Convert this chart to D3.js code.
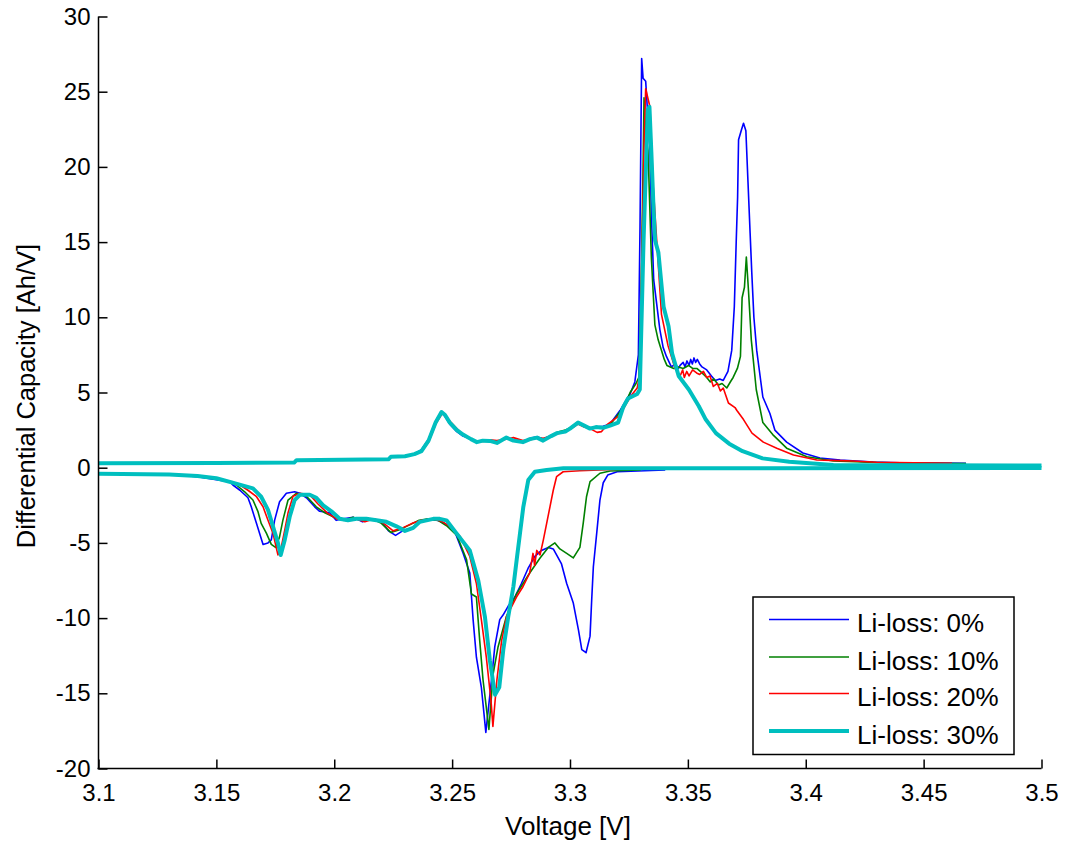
<!DOCTYPE html>
<html>
<head>
<meta charset="utf-8">
<script src="https://cdn.jsdelivr.net/npm/d3@7"></script>
<style>
  html, body { margin: 0; padding: 0; background: #fff; }
  svg { display: block; font-family: "Liberation Sans", Arial, sans-serif; }
</style>
</head>
<body>
<svg id="chart" width="1065" height="841"></svg>
<script>
// ---------- data ----------
const seriesNames = ["Li-loss: 0%", "Li-loss: 10%", "Li-loss: 20%", "Li-loss: 30%"];
const seriesColors = ["#0000ff", "#008000", "#ff0000", "#00bfbf"];
const seriesWidths = [1.6, 1.6, 1.6, 4];

const xTicks = [3.1, 3.15, 3.2, 3.25, 3.3, 3.35, 3.4, 3.45, 3.5];
const xTickLabels = ["3.1", "3.15", "3.2", "3.25", "3.3", "3.35", "3.4", "3.45", "3.5"];
const yTicks = [-20, -15, -10, -5, 0, 5, 10, 15, 20, 25, 30];
const yTickLabels = ["-20", "-15", "-10", "-5", "0", "5", "10", "15", "20", "25", "30"];

// charge branches [voltage, dQ/dV]
const charge0 = [[3.100,0.30],[3.150,0.32],[3.183,0.35],[3.184,0.50],[3.223,0.56],[3.224,0.70],[3.230,0.76],[3.234,0.92],[3.237,1.2],[3.240,1.9],[3.243,3.1],[3.2453,3.7],[3.247,3.4],[3.249,2.9],[3.252,2.4],[3.2546,2.1],[3.258,1.9],[3.2605,1.75],[3.263,1.8],[3.266,1.75],[3.269,1.7],[3.273,1.95],[3.276,1.85],[3.280,1.75],[3.283,1.95],[3.286,2.05],[3.2886,1.9],[3.292,2.15],[3.2945,2.3],[3.298,2.45],[3.300,2.6],[3.3034,2.95],[3.306,2.8],[3.3085,2.65],[3.311,2.7],[3.314,2.75],[3.317,2.9],[3.3212,3.8],[3.3235,4.4],[3.3255,4.9],[3.3275,5.7],[3.3290,7.5],[3.3297,16],[3.3304,27.2],[3.3310,25.9],[3.3321,25.7],[3.3339,21.1],[3.3346,16.5],[3.3355,12.5],[3.3381,9.2],[3.3395,8.0],[3.3409,7.4],[3.3430,6.7],[3.3447,6.9],[3.3460,6.6],[3.3467,6.8],[3.3480,7.0],[3.3488,6.7],[3.3496,7.1],[3.3505,6.8],[3.3512,7.2],[3.3519,6.9],[3.3526,7.3],[3.3533,7.0],[3.3540,7.2],[3.3550,6.9],[3.3560,6.7],[3.3580,6.5],[3.3600,6.1],[3.3616,5.8],[3.3635,5.9],[3.3650,5.8],[3.3670,6.4],[3.3686,7.8],[3.3697,10.7],[3.3705,15],[3.3711,18],[3.3715,21.8],[3.3728,22.5],[3.3736,22.9],[3.3746,22.4],[3.3755,19],[3.3764,15.6],[3.3771,13],[3.3780,10],[3.3792,7.8],[3.3818,4.7],[3.3848,3.6],[3.3869,2.5],[3.3919,1.7],[3.3988,0.98],[3.4060,0.64],[3.4146,0.51],[3.4287,0.37],[3.4400,0.32],[3.4680,0.30]];
const charge10 = [[3.100,0.30],[3.150,0.32],[3.183,0.34],[3.184,0.50],[3.223,0.55],[3.224,0.70],[3.230,0.75],[3.234,0.90],[3.237,1.15],[3.240,1.85],[3.243,3.0],[3.2455,3.65],[3.247,3.5],[3.249,3.0],[3.252,2.5],[3.2546,2.2],[3.258,1.9],[3.2605,1.7],[3.263,1.8],[3.266,1.8],[3.269,1.7],[3.273,1.95],[3.276,1.8],[3.280,1.75],[3.283,1.9],[3.286,2.0],[3.2886,1.85],[3.292,2.1],[3.2945,2.35],[3.298,2.5],[3.300,2.65],[3.3034,3.05],[3.306,2.8],[3.3085,2.6],[3.311,2.7],[3.314,2.7],[3.317,2.85],[3.3212,3.7],[3.3235,4.3],[3.3255,5.0],[3.3280,5.6],[3.3292,6.0],[3.3302,12],[3.3310,20],[3.3314,24.6],[3.3322,22],[3.3331,21.1],[3.3345,14],[3.3360,9.5],[3.3374,8.5],[3.3400,7.2],[3.3411,6.8],[3.3440,6.6],[3.3460,6.7],[3.3480,6.6],[3.3503,6.8],[3.3520,6.6],[3.3538,6.6],[3.3560,6.3],[3.3580,6.0],[3.3595,5.7],[3.3610,5.9],[3.3630,5.5],[3.3645,5.6],[3.3665,5.3],[3.3680,5.7],[3.3692,6.0],[3.3710,6.6],[3.3723,7.4],[3.3730,11.3],[3.3740,12.0],[3.3748,14.0],[3.3757,11.8],[3.3769,8.5],[3.3790,5.2],[3.3818,3.0],[3.3860,2.2],[3.3919,1.3],[3.4005,0.73],[3.4117,0.45],[3.4300,0.35],[3.4500,0.30],[3.4680,0.28]];
const charge20 = [[3.100,0.30],[3.150,0.32],[3.183,0.34],[3.184,0.50],[3.223,0.55],[3.224,0.70],[3.230,0.74],[3.234,0.88],[3.237,1.1],[3.240,1.7],[3.243,2.9],[3.2458,3.6],[3.247,3.5],[3.249,3.1],[3.252,2.6],[3.2546,2.2],[3.258,1.85],[3.2605,1.75],[3.263,1.75],[3.266,1.85],[3.269,1.8],[3.273,1.9],[3.276,2.0],[3.280,1.8],[3.283,1.85],[3.286,2.0],[3.2886,1.95],[3.292,2.1],[3.2945,2.25],[3.298,2.4],[3.300,2.55],[3.3034,2.9],[3.306,2.7],[3.3085,2.6],[3.3115,2.35],[3.3134,2.4],[3.3160,2.9],[3.3195,3.3],[3.3212,3.5],[3.3240,4.3],[3.3265,4.9],[3.3285,5.3],[3.3294,6.0],[3.3305,14],[3.3315,22],[3.3321,25.2],[3.3339,24.0],[3.3353,18.7],[3.3388,10.2],[3.3416,8.1],[3.3446,6.6],[3.3467,6.1],[3.3478,6.5],[3.3485,6.0],[3.3495,6.4],[3.3505,6.1],[3.3520,6.5],[3.3537,6.3],[3.3550,6.2],[3.3566,6.4],[3.3580,6.0],[3.3594,6.1],[3.3608,5.4],[3.3625,5.6],[3.3638,5.1],[3.3650,5.3],[3.3672,4.3],[3.3700,4.0],[3.3708,3.8],[3.3736,3.2],[3.3772,2.3],[3.3820,1.7],[3.3877,1.3],[3.3948,0.85],[3.4047,0.51],[3.4146,0.47],[3.4200,0.45],[3.4300,0.36],[3.4620,0.30]];
const charge30 = [[3.100,0.30],[3.150,0.32],[3.183,0.34],[3.184,0.50],[3.223,0.56],[3.224,0.72],[3.230,0.76],[3.234,0.90],[3.237,1.1],[3.240,1.8],[3.243,3.0],[3.2455,3.7],[3.247,3.5],[3.249,3.0],[3.252,2.5],[3.2546,2.2],[3.258,1.9],[3.2605,1.7],[3.263,1.8],[3.266,1.78],[3.269,1.65],[3.273,2.0],[3.276,1.8],[3.280,1.7],[3.283,1.9],[3.286,2.0],[3.2886,1.8],[3.292,2.1],[3.2945,2.3],[3.298,2.4],[3.300,2.6],[3.3034,3.0],[3.306,2.8],[3.3085,2.6],[3.311,2.7],[3.314,2.65],[3.317,2.8],[3.3204,3.0],[3.3225,4.0],[3.3246,4.6],[3.3285,4.9],[3.3296,5.2],[3.3312,15.1],[3.3330,23.8],[3.3337,24.0],[3.3345,21],[3.3355,17],[3.3361,15.1],[3.3375,14.3],[3.3397,10.7],[3.3418,9.4],[3.3433,7.6],[3.3461,6.1],[3.3504,5.2],[3.3546,4.1],[3.3576,3.2],[3.3619,2.3],[3.3675,1.6],[3.3732,1.1],[3.3817,0.62],[3.3930,0.40],[3.4117,0.18],[3.5000,0.15]];

// discharge branches [voltage, dQ/dV]
const discharge0 = [[3.100,-0.40],[3.130,-0.45],[3.142,-0.60],[3.150,-0.80],[3.1556,-0.93],[3.1570,-1.15],[3.1600,-1.5],[3.1634,-2.0],[3.1648,-2.6],[3.1670,-3.7],[3.1698,-5.1],[3.1719,-5.0],[3.1733,-4.8],[3.1747,-3.5],[3.1768,-2.26],[3.1797,-1.7],[3.1832,-1.6],[3.1854,-1.7],[3.1882,-2.0],[3.1917,-2.6],[3.1938,-2.9],[3.1980,-3.0],[3.2008,-3.5],[3.2040,-3.4],[3.2080,-3.3],[3.2120,-3.6],[3.2160,-3.4],[3.2200,-3.6],[3.2230,-4.2],[3.2260,-4.5],[3.2290,-4.2],[3.2330,-4.0],[3.2360,-3.6],[3.2400,-3.4],[3.2440,-3.5],[3.2480,-3.8],[3.2509,-4.15],[3.2547,-5.7],[3.2575,-7.0],[3.2589,-10.1],[3.2603,-12.6],[3.2624,-14.6],[3.2643,-17.6],[3.2667,-14.1],[3.2681,-11.9],[3.2702,-10.1],[3.2716,-9.8],[3.2738,-9.2],[3.2766,-8.6],[3.2794,-7.7],[3.2822,-6.7],[3.2851,-5.9],[3.2879,-5.5],[3.2908,-5.3],[3.2929,-5.4],[3.2943,-5.8],[3.2964,-6.4],[3.2986,-7.7],[3.3014,-9.0],[3.3036,-10.8],[3.3050,-12.1],[3.3068,-12.3],[3.3085,-11.2],[3.3092,-8.8],[3.3099,-6.6],[3.3113,-4.4],[3.3127,-2.15],[3.3141,-1.0],[3.3160,-0.49],[3.3200,-0.27],[3.3404,-0.15]];
const discharge10 = [[3.100,-0.40],[3.130,-0.45],[3.142,-0.58],[3.150,-0.75],[3.1556,-0.95],[3.1585,-1.15],[3.1620,-1.6],[3.1655,-2.15],[3.1676,-2.9],[3.1690,-3.7],[3.1712,-4.35],[3.1733,-5.1],[3.1751,-5.3],[3.1768,-4.6],[3.1782,-3.5],[3.1804,-2.15],[3.1839,-1.7],[3.1860,-1.8],[3.1882,-1.9],[3.1924,-2.6],[3.1960,-3.0],[3.2000,-3.3],[3.2040,-3.5],[3.2080,-3.3],[3.2120,-3.5],[3.2160,-3.4],[3.2200,-3.7],[3.2240,-4.3],[3.2280,-4.1],[3.2320,-3.8],[3.2360,-3.5],[3.2400,-3.4],[3.2440,-3.5],[3.2480,-3.9],[3.2520,-4.5],[3.2561,-6.1],[3.2582,-8.4],[3.2603,-8.6],[3.2617,-11.5],[3.2631,-14.1],[3.2656,-17.4],[3.2674,-13.7],[3.2695,-11.9],[3.2730,-9.9],[3.2773,-8.4],[3.2829,-7.0],[3.2873,-6.0],[3.2908,-5.3],[3.2936,-5.0],[3.2957,-5.4],[3.2986,-5.7],[3.3014,-6.0],[3.3042,-5.3],[3.3056,-3.7],[3.3070,-1.93],[3.3085,-0.93],[3.3127,-0.37],[3.3170,-0.22],[3.3300,-0.15]];
const discharge20 = [[3.100,-0.40],[3.130,-0.45],[3.142,-0.55],[3.150,-0.72],[3.1556,-0.92],[3.1600,-1.15],[3.1634,-1.5],[3.1669,-1.9],[3.1698,-2.6],[3.1719,-3.5],[3.1740,-4.35],[3.1761,-5.8],[3.1775,-5.3],[3.1790,-4.15],[3.1804,-3.0],[3.1825,-1.9],[3.1854,-1.7],[3.1896,-1.8],[3.1930,-2.4],[3.1970,-3.0],[3.2010,-3.4],[3.2050,-3.5],[3.2090,-3.4],[3.2130,-3.6],[3.2170,-3.4],[3.2210,-3.7],[3.2250,-4.2],[3.2290,-4.0],[3.2330,-3.7],[3.2370,-3.5],[3.2420,-3.4],[3.2460,-3.6],[3.2500,-4.0],[3.2535,-4.6],[3.2575,-5.9],[3.2603,-7.7],[3.2624,-10.1],[3.2645,-12.6],[3.2665,-15.5],[3.2673,-17.2],[3.2690,-14.1],[3.2710,-11.5],[3.2731,-9.9],[3.2773,-8.6],[3.2801,-7.9],[3.2829,-7.0],[3.2843,-5.7],[3.2850,-6.5],[3.2859,-5.5],[3.2873,-5.8],[3.2887,-4.8],[3.2901,-3.7],[3.2915,-2.6],[3.2929,-1.5],[3.2943,-0.6],[3.2971,-0.27],[3.3042,-0.2],[3.3212,-0.1]];
const discharge30 = [[3.100,-0.40],[3.130,-0.45],[3.142,-0.55],[3.150,-0.70],[3.1580,-1.04],[3.1655,-1.37],[3.1690,-1.93],[3.1719,-2.8],[3.1740,-3.9],[3.1761,-5.0],[3.1773,-5.8],[3.1790,-4.8],[3.1811,-3.26],[3.1832,-2.15],[3.1854,-1.8],[3.1896,-1.8],[3.1924,-2.0],[3.1953,-2.5],[3.1988,-2.9],[3.2023,-3.4],[3.2058,-3.5],[3.2094,-3.4],[3.2136,-3.4],[3.2179,-3.5],[3.2221,-3.6],[3.2264,-3.9],[3.2300,-4.2],[3.2335,-4.0],[3.2363,-3.6],[3.2420,-3.4],[3.2448,-3.4],[3.2476,-3.5],[3.2518,-4.35],[3.2575,-5.5],[3.2611,-7.5],[3.2639,-9.9],[3.2660,-12.8],[3.2682,-15.1],[3.2700,-14.6],[3.2717,-12.1],[3.2738,-9.9],[3.2760,-7.9],[3.2774,-6.1],[3.2788,-4.35],[3.2802,-2.6],[3.2823,-0.82],[3.2851,-0.27],[3.2901,-0.15],[3.2972,-0.04],[3.5000,-0.02]];

const chargeSets = [charge0, charge10, charge20, charge30];
const dischargeSets = [discharge0, discharge10, discharge20, discharge30];

// ---------- drawing ----------
const svg = d3.select("#chart");
const x = d3.scaleLinear().domain([3.1, 3.5]).range([98.5, 1041.5]);
const y = d3.scaleLinear().domain([-20, 30]).range([768.5, 16.5]);

const line = d3.line().x(d => x(d[0])).y(d => y(d[1]));

const plot = svg.append("g");
seriesNames.forEach((name, i) => {
  [chargeSets[i], dischargeSets[i]].forEach(data => {
    plot.append("path")
      .datum(data)
      .attr("fill", "none")
      .attr("stroke", seriesColors[i])
      .attr("stroke-width", seriesWidths[i])
      .attr("stroke-linejoin", "round")
      .attr("d", line);
  });
});

// axes
const xAxis = d3.axisBottom(x)
  .tickValues(xTicks)
  .tickFormat((d, i) => xTickLabels[i])
  .tickSizeInner(-9).tickSizeOuter(0).tickPadding(15);
const yAxis = d3.axisLeft(y)
  .tickValues(yTicks)
  .tickFormat((d, i) => yTickLabels[i])
  .tickSizeInner(-9).tickSizeOuter(0).tickPadding(8);

const gx = svg.append("g").attr("transform", "translate(0,768.5)").call(xAxis);
const gy = svg.append("g").attr("transform", "translate(98.5,0)").call(yAxis);
[gx, gy].forEach(g => {
  g.selectAll("path.domain").attr("stroke", "#000").attr("stroke-width", 1.5);
  g.selectAll(".tick line").attr("stroke", "#000").attr("stroke-width", 1.5);
  g.selectAll(".tick text").attr("fill", "#000").style("font-size", "24px")
    .style("font-family", '"Liberation Sans", Arial, sans-serif');
});
gx.select("path.domain").attr("d", `M${x(3.1) - 1},0H${x(3.5)}`);
gy.select("path.domain").attr("d", `M0,${y(-20) + 0.75}V${y(30)}`);

// axis titles
svg.append("text")
  .attr("x", 568).attr("y", 835)
  .attr("text-anchor", "middle")
  .style("font-size", "26px")
  .text("Voltage [V]");
svg.append("text")
  .attr("transform", "translate(35,396) rotate(-90)")
  .attr("text-anchor", "middle")
  .style("font-size", "25.5px")
  .text("Differential Capacity [Ah/V]");

// legend
const lg = svg.append("g");
lg.append("rect")
  .attr("x", 753).attr("y", 597).attr("width", 261).attr("height", 157.5)
  .attr("fill", "#fff").attr("stroke", "#000").attr("stroke-width", 1.5);
const rowY = [619.5, 657, 693.5, 731];
seriesNames.forEach((name, i) => {
  lg.append("line")
    .attr("x1", 769).attr("x2", 849)
    .attr("y1", rowY[i]).attr("y2", rowY[i])
    .attr("stroke", seriesColors[i]).attr("stroke-width", seriesWidths[i]);
  lg.append("text")
    .attr("x", 857).attr("y", rowY[i] + 12.5)
    .style("font-size", "26px")
    .text(name);
});
</script>
</body>
</html>
